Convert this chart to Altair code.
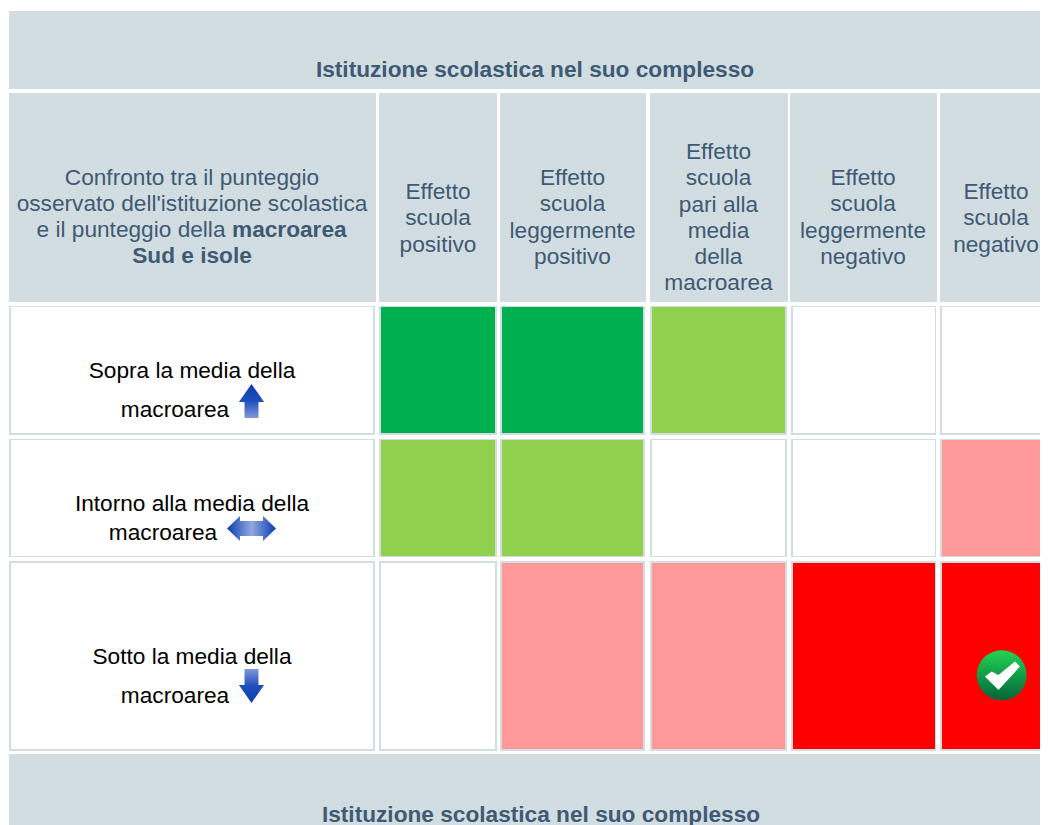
import altair as alt
import pandas as pd

band_title = "Istituzione scolastica nel suo complesso"
cell_levels = [
    ["verde", "verde", "chiaro", "bianco", "bianco"],
    ["chiaro", "chiaro", "bianco", "bianco", "rosa"],
    ["bianco", "rosa", "rosa", "rosso", "rosso"],
]
level_names = ["verde", "chiaro", "bianco", "rosa", "rosso"]
level_colors = ["#00B050", "#92D050", "#FFFFFF", "#FF9999", "#FF0000"]

head_col_x0 = [9, 379, 500, 650, 790, 940]
head_col_x1 = [376, 497, 646, 788, 937, 1048]
body_col_x0 = [9, 379, 500, 650, 791, 940]
body_col_x1 = [375, 497, 645, 787, 936, 1048]
inset_right = [2, 2, 2, 2, 1, 0]
body_row_y0 = [306, 439, 561]
body_row_y1 = [435, 557, 751]
inset_top = [1, 1, 2]
inset_bottom = [2, 1, 2]
bands = [(9, 1048, 11, 89), (9, 1048, 754, 825)]

header_lines = [
    ["Confronto tra il punteggio", "osservato dell'istituzione scolastica"],
    ["Effetto", "scuola", "positivo"],
    ["Effetto", "scuola", "leggermente", "positivo"],
    ["Effetto", "scuola", "pari alla", "media", "della", "macroarea"],
    ["Effetto", "scuola", "leggermente", "negativo"],
    ["Effetto", "scuola", "negativo"],
]
header_center = [192, 438, 572.5, 718.5, 863, 996]
header_first_baseline = [185, 199, 185, 159, 185, 199]
line_step = 26.25

body_lines = [
    ("Sopra la media della", 192, 378), ("macroarea", 175, 417),
    ("Intorno alla media della", 192, 510.5), ("macroarea", 163, 540),
    ("Sotto la media della", 192, 664), ("macroarea", 175, 703),
]

xs = alt.Scale(domain=[8, 1040], range=[0, 1032], nice=False, zero=False)
ys = alt.Scale(domain=[825, 8], range=[817, 0], nice=False, zero=False)
GREY, INK = "#D2DDE2", "#3E5A74"
FONT = "Liberation Sans"
FS = 22.67

hdr = []
for i in range(6):
    hdr.append(dict(x0=head_col_x0[i], x1=head_col_x1[i], y0=93, y1=302))
for b in bands:
    hdr.append(dict(x0=b[0], x1=b[1], y0=b[2], y1=b[3]))

outer, inner = [], []
for r in range(3):
    for c in range(6):
        lvl = "bianco" if c == 0 else cell_levels[r][c - 1]
        base = dict(x0=body_col_x0[c], x1=body_col_x1[c], y0=body_row_y0[r], y1=body_row_y1[r])
        outer.append(base)
        inner.append(dict(x0=base["x0"] + 2, x1=base["x1"] - inset_right[c],
                          y0=base["y0"] + inset_top[r], y1=base["y1"] - inset_bottom[r], level=lvl))


def rects(rows, color=None):
    enc = dict(
        x=alt.X("x0:Q", scale=xs, axis=None), x2="x1:Q",
        y=alt.Y("y0:Q", scale=ys, axis=None), y2="y1:Q",
    )
    if color is None:
        enc["color"] = alt.Color("level:N", scale=alt.Scale(domain=level_names, range=level_colors), legend=None)
        return alt.Chart(pd.DataFrame(rows)).mark_rect().encode(**enc)
    return alt.Chart(pd.DataFrame(rows)).mark_rect(color=color).encode(**enc)


def texts(rows, size, color, weight="normal", align="center"):
    return alt.Chart(pd.DataFrame(rows)).mark_text(
        font=FONT, fontSize=size, color=color, fontWeight=weight, align=align, baseline="alphabetic"
    ).encode(
        x=alt.X("x:Q", scale=xs, axis=None),
        y=alt.Y("y:Q", scale=ys, axis=None),
        text="t:N",
    )


normal_lines = []
for i, lines in enumerate(header_lines):
    for j, t in enumerate(lines):
        normal_lines.append(dict(t=t, x=header_center[i], y=header_first_baseline[i] + j * line_step))

bold_lines = [
    dict(t=band_title, x=535, y=77),
    dict(t=band_title, x=541, y=822),
    dict(t="Sud e isole", x=192, y=263),
]
body_rows = [dict(t=t, x=x, y=y) for t, x, y in body_lines]


def grad(stops, x2=0, y2=1):
    return alt.Gradient(
        gradient="linear", x1=0, y1=0, x2=x2, y2=y2,
        stops=[alt.GradientStop(offset=o, color=c) for o, c in stops],
    )


UP = "M0,-1 L0.74,0.06 L0.41,0.06 L0.41,1 L-0.41,1 L-0.41,0.06 L-0.74,0.06 Z"
DOWN = "M0,1 L0.74,-0.06 L0.41,-0.06 L0.41,-1 L-0.41,-1 L-0.41,-0.06 L-0.74,-0.06 Z"
BOTH = "M-1,0 L-0.47,-0.51 L-0.47,-0.31 L0.47,-0.31 L0.47,-0.51 L1,0 L0.47,0.51 L0.47,0.31 L-0.47,0.31 L-0.47,0.51 Z"
CHECK = "M-0.67,0.05 L-0.40,-0.15 L-0.13,-0.01 L0.53,-0.55 L0.73,-0.35 L-0.13,0.59 Z"


def icon(x, y, shape, size, fill):
    return alt.Chart(pd.DataFrame([dict(x=x, y=y)])).mark_point(
        shape=shape, size=size, fill=fill, filled=True, opacity=1, strokeWidth=0
    ).encode(x=alt.X("x:Q", scale=xs, axis=None), y=alt.Y("y:Q", scale=ys, axis=None))


chart = alt.layer(
    rects(hdr, GREY),
    rects(outer, GREY),
    rects(inner),
    texts(normal_lines, FS, INK),
    texts([dict(t="e il punteggio della", x=225.5, y=237)], FS, INK, align="right"),
    texts([dict(t="macroarea", x=232, y=237)], FS, INK, "bold", "left"),
    texts(bold_lines, FS, INK, "bold"),
    texts(body_rows, FS, "#000000"),
    icon(251.5, 401, UP, 1156, grad([(0, "#0A3CAE"), (0.5, "#1F4FBB"), (1, "#7F98DC")])),
    icon(251.5, 528.5, BOTH, 2401, grad([(0, "#0A3CAE"), (0.5, "#93A8E0"), (1, "#0A3CAE")], x2=1, y2=0)),
    icon(251.5, 686, DOWN, 1156, grad([(0, "#7F98DC"), (0.5, "#1F4FBB"), (1, "#0A3CAE")])),
    icon(1001.7, 675.3, "circle", 2500, grad([(0, "#22D452"), (1, "#05643A")])),
    icon(1001.7, 675.3, CHECK, 2500, "#FFFFFF"),
).properties(width=1032, height=817, padding=0, autosize=alt.AutoSizeParams(type="none")).configure_view(stroke=None)

chart.save("out.html", embed_options={"renderer": "svg", "actions": False})
